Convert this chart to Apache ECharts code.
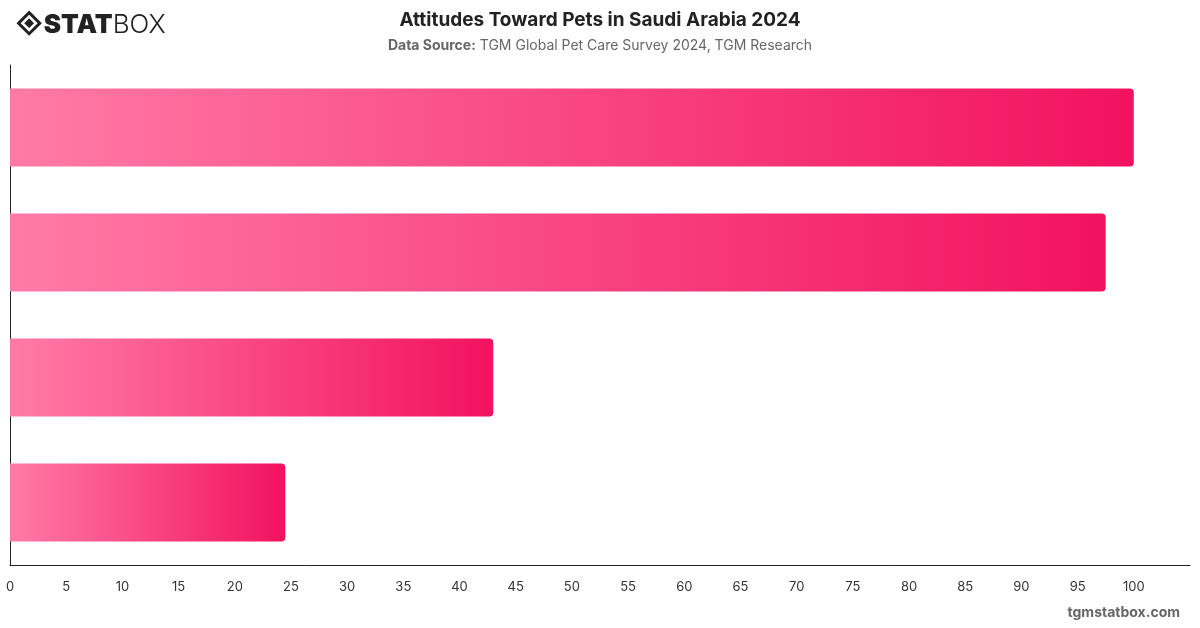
<!DOCTYPE html>
<html>
<head>
<meta charset="utf-8">
<script src="https://cdn.jsdelivr.net/npm/echarts@6/dist/echarts.min.js"></script>
<style>
  html, body { margin: 0; padding: 0; background: #fff; }
  #chart { width: 1200px; height: 628px; }
</style>
</head>
<body>
<div id="chart"></div>
<script>
// categories are not labelled in the picture
const categories = ['Attitude A', 'Attitude B', 'Attitude C', 'Attitude D'];
const values = [100, 97.5, 43, 24.5];
const tickStep = 5;

const chart = echarts.init(document.getElementById('chart'));

const barColor = new echarts.graphic.LinearGradient(0, 0, 1, 0, [
  {offset: 0, color: '#FF7BA6'},
  {offset: 1, color: '#F2125F'}
]);

const option = {
  animation: false,
  textStyle: {fontFamily: 'Inter, "Noto Sans", sans-serif'},
  title: [
    {
      text: 'Attitudes Toward Pets in Saudi Arabia 2024',
      left: 'center', top: 6,
      textStyle: {fontSize: 19, fontWeight: 'bold', color: '#222'}
    },
    {
      text: '{b|Data Source:} TGM Global Pet Care Survey 2024, TGM Research',
      left: 'center', top: 34,
      textStyle: {
        fontSize: 14, fontWeight: 'normal', color: '#666',
        rich: {b: {fontSize: 14, fontWeight: 'bold', color: '#666'}}
      }
    }
  ],
  graphic: [
    {
      type: 'group', left: 15, top: 9,
      children: [
        {type: 'rect', shape: {x: 3, y: 3, width: 15, height: 15}, rotation: Math.PI / 4, originX: 10.5, originY: 10.5,
          style: {fill: 'none', stroke: '#222', lineWidth: 3}},
        {type: 'rect', shape: {x: 7, y: 7, width: 7, height: 7}, rotation: Math.PI / 4, originX: 10.5, originY: 10.5,
          style: {fill: '#222'}},
        {type: 'text', x: 25, y: 0, style: {text: 'STAT', fontSize: 26, fontWeight: 900, fill: '#222', fontFamily: 'Inter, sans-serif'}},
        {type: 'text', x: 94, y: 0, style: {text: 'BOX', fontSize: 26, fontWeight: 300, fill: '#222', fontFamily: 'Inter, sans-serif'}}
      ]
    },
    {
      type: 'text', right: 20, top: 606,
      style: {text: 'tgmstatbox.com', fontSize: 14, fontWeight: 'bold', fill: '#666', fontFamily: 'Inter, sans-serif'}
    }
  ],
  grid: {left: 10, right: 10, top: 65, bottom: 63, containLabel: false},
  xAxis: {
    type: 'value', min: 0, max: 105, interval: tickStep,
    axisLine: {show: true, lineStyle: {color: '#222', width: 1}},
    axisTick: {show: false},
    splitLine: {show: false},
    axisLabel: {color: '#333', fontSize: 13, margin: 16, showMaxLabel: false,
      formatter: v => (v > 100 ? '' : String(v))}
  },
  yAxis: {
    type: 'category', data: categories, inverse: true,
    axisLine: {show: true, lineStyle: {color: '#222', width: 1}},
    axisTick: {show: false},
    axisLabel: {show: false}
  },
  series: [{
    type: 'bar',
    data: values,
    barWidth: '62.4%',
    itemStyle: {color: barColor, borderRadius: [0, 4, 4, 0]}
  }]
};

chart.setOption(option);
</script>
</body>
</html>
